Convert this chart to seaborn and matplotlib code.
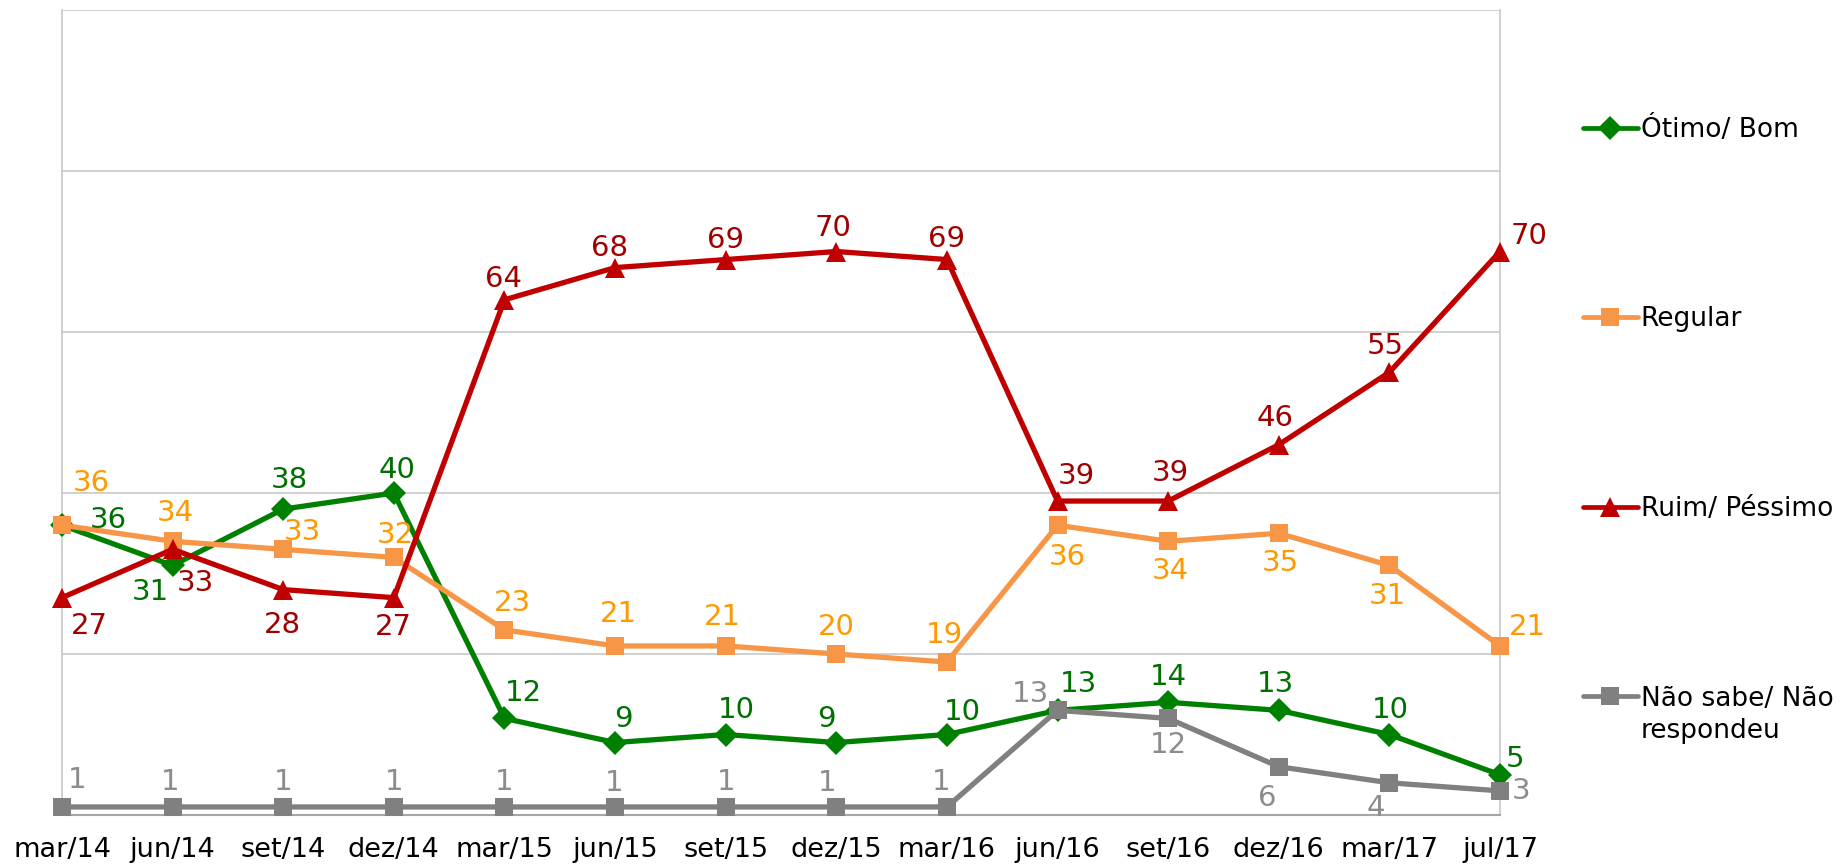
import pandas as pd
import matplotlib.pyplot as plt
import seaborn as sns
from matplotlib.lines import Line2D
from matplotlib.text import Annotation

# data
periods = ["mar/14", "jun/14", "set/14", "dez/14", "mar/15", "jun/15", "set/15",
           "dez/15", "mar/16", "jun/16", "set/16", "dez/16", "mar/17", "jul/17"]
otimo_bom = [36, 31, 38, 40, 12, 9, 10, 9, 10, 13, 14, 13, 10, 5]
regular = [36, 34, 33, 32, 23, 21, 21, 20, 19, 36, 34, 35, 31, 21]
ruim_pessimo = [27, 33, 28, 27, 64, 68, 69, 70, 69, 39, 39, 46, 55, 70]
nao_sabe = [1, 1, 1, 1, 1, 1, 1, 1, 1, 13, 12, 6, 4, 3]

series_names = ["Ótimo/ Bom", "Regular", "Ruim/ Péssimo", "Não sabe/ Não"]
series_values = [otimo_bom, regular, ruim_pessimo, nao_sabe]

# styles
line_colors = ["#008000", "#F79646", "#C00000", "#808080"]
label_colors = ["#007000", "#FF9900", "#A00000", "#8C8C8C"]
markers = ["D", "s", "^", "s"]
marker_sizes = [12.5, 13, 15, 13]

# label offsets in pixels (dx right, dy down)
offsets = [
    [(46, -5), (-22, 27), (6, -29), (3, -23), (19, -25), (8, -24), (11, -24),
     (-10, -24), (15, -23), (21, -26), (0, -25), (-3, -26), (1, -24), (15, -16)],
    [(29, -42), (3, -28), (19, -17), (1, -22), (8, -27), (3, -32), (-3, -29),
     (0, -27), (-3, -27), (10, 32), (2, 30), (2, 30), (-2, 31), (27, -19)],
    [(27, 28), (23, 34), (-1, 35), (0, 29), (-1, -21), (-6, -20), (0, -20),
     (-3, -23), (0, -21), (19, -25), (2, -28), (-4, -27), (-4, -26), (29, -15)],
    [(15, -27), (-2, -25), (0, -25), (0, -25), (0, -25), (-1, -24), (0, -25),
     (-9, -24), (-6, -25), (-27, -16), (0, 27), (-12, 31), (-14, 25), (21, 0)],
]

rows = []
for name, vals in zip(series_names, series_values):
    for i, v in enumerate(vals):
        rows.append({"idx": i, "valor": v, "serie": name})
df = pd.DataFrame(rows)

sns.set_style("white")
plt.rcParams["font.family"] = ["DejaVu Sans"]
plt.rcParams["text.color"] = "black"
plt.rcParams["xtick.labelcolor"] = "black"

fig = plt.figure(figsize=(18.45, 8.67), dpi=100)
ax = fig.add_axes([62 / 1845, 1 - 815 / 867, (1500 - 62) / 1845, (815 - 10) / 867])

for k, name in enumerate(series_names):
    sub = df[df["serie"] == name]
    sns.lineplot(data=sub, x="idx", y="valor", ax=ax, color=line_colors[k],
                 marker=markers[k], markersize=marker_sizes[k],
                 markeredgewidth=0, linewidth=3.8, zorder=3 + k, clip_on=False)
    for i, v in enumerate(series_values[k]):
        dx, dy = offsets[k][i]
        ax.annotate(str(v), (i, v), xytext=(dx, -dy), textcoords="offset pixels",
                    ha="center", va="center", fontsize=21, color=label_colors[k],
                    zorder=10, annotation_clip=False)

ax.set_xlim(0, len(periods) - 1)
ax.set_ylim(0, 100)
ax.set_xticks(range(len(periods)))
ax.set_xticklabels(periods, fontsize=19.5, color="black")
ax.set_yticks([20, 40, 60, 80, 100])
ax.set_yticklabels([])
ax.tick_params(axis="y", length=0)
ax.tick_params(axis="x", direction="out", length=8, width=1, color="#A6A6A6", pad=8)
ax.grid(axis="y", color="#C8C8C8", linewidth=1.2)
ax.set_axisbelow(True)
ax.set_xlabel("")
ax.set_ylabel("")
for side in ["left", "right"]:
    ax.spines[side].set_color("#C8C8C8")
    ax.spines[side].set_linewidth(1.2)
ax.spines["top"].set_visible(False)
ax.spines["bottom"].set_color("#A6A6A6")
ax.spines["bottom"].set_linewidth(1.5)

handles = [Line2D([0], [0], color=line_colors[k], marker=markers[k],
                  markersize=marker_sizes[k], markeredgewidth=0, linewidth=3.4)
           for k in range(4)]
leg = fig.legend(handles, series_names, loc="upper left",
                 bbox_to_anchor=(1559 / 1845, 1 - 92 / 867), frameon=False,
                 fontsize=19, handlelength=2.1, handletextpad=0.1,
                 labelspacing=6.2)
for t in leg.get_texts():
    t.set_color("black")

# second line of the last legend label, hung under the first line
ann = Annotation("respondeu", xy=(0, 0), xycoords=leg.get_texts()[3],
                 xytext=(0, -6), textcoords="offset pixels", fontsize=19,
                 va="top", ha="left", color="black", zorder=6)
fig.add_artist(ann)

fig.savefig("out.png", dpi=100)
